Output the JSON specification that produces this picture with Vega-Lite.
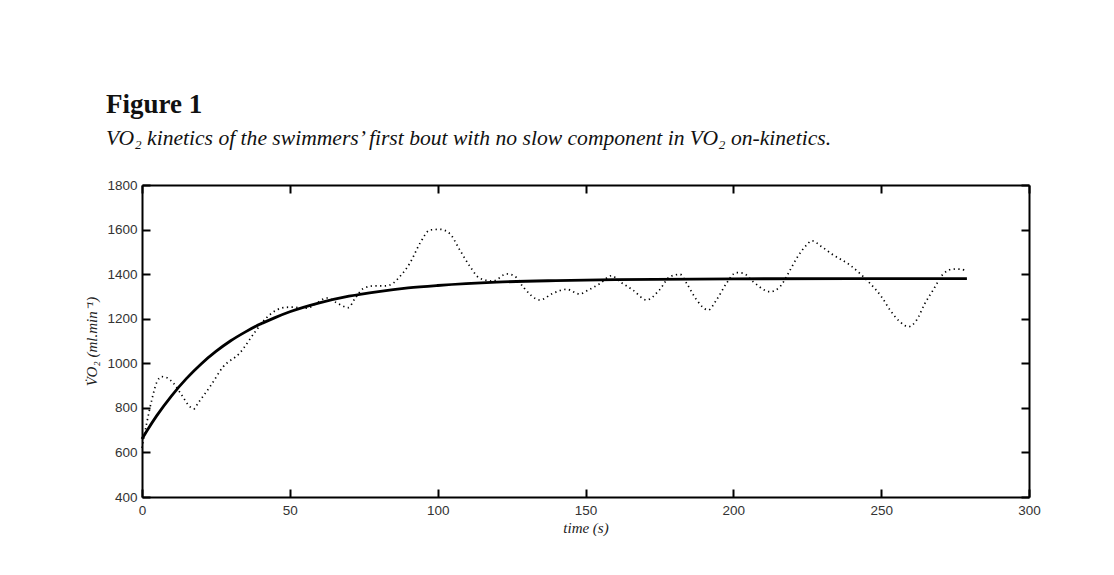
{
  "$schema": "https://vega.github.io/schema/vega-lite/v6.json",
  "autosize": {"type": "none"},
  "padding": {"left": 142, "top": 185, "right": 85, "bottom": 78},
  "width": 887,
  "height": 312,
  "background": "white",
  "title": {
    "text": "Figure 1",
    "subtitle": "VO₂ kinetics of the swimmers’ first bout with no slow component in VO₂ on-kinetics.",
    "anchor": "start",
    "frame": "group",
    "dx": -36,
    "offset": 27,
    "font": "Liberation Serif",
    "fontSize": 27,
    "fontWeight": "bold",
    "color": "#111111",
    "subtitleFont": "Liberation Serif",
    "subtitleFontSize": 21.6,
    "subtitleFontStyle": "italic",
    "subtitleColor": "#111111",
    "subtitlePadding": 9
  },
  "datasets": {
    "fit": [
      {"t": 0, "v": 660}, {"t": 2, "v": 704}, {"t": 5, "v": 765}, {"t": 10, "v": 854},
      {"t": 15, "v": 931}, {"t": 20, "v": 997}, {"t": 25, "v": 1053}, {"t": 30, "v": 1101},
      {"t": 35, "v": 1141}, {"t": 40, "v": 1176}, {"t": 45, "v": 1205}, {"t": 50, "v": 1231},
      {"t": 60, "v": 1271}, {"t": 70, "v": 1301}, {"t": 80, "v": 1322}, {"t": 90, "v": 1338},
      {"t": 100, "v": 1349}, {"t": 120, "v": 1364}, {"t": 140, "v": 1371}, {"t": 160, "v": 1375},
      {"t": 200, "v": 1379}, {"t": 240, "v": 1380}, {"t": 279, "v": 1380}
    ],
    "obs": [
      {"t": 0, "v": 620}, {"t": 1.6, "v": 732}, {"t": 3.3, "v": 835}, {"t": 5, "v": 915},
      {"t": 6.7, "v": 940}, {"t": 8.5, "v": 935}, {"t": 10.6, "v": 911}, {"t": 13.4, "v": 858},
      {"t": 16.2, "v": 805}, {"t": 17.5, "v": 795}, {"t": 19, "v": 822}, {"t": 23, "v": 895},
      {"t": 27.5, "v": 985}, {"t": 33, "v": 1045}, {"t": 38.2, "v": 1140}, {"t": 42, "v": 1203},
      {"t": 45.5, "v": 1239}, {"t": 48, "v": 1250}, {"t": 50.6, "v": 1252}, {"t": 55.7, "v": 1247},
      {"t": 58.5, "v": 1265}, {"t": 62.5, "v": 1293}, {"t": 66, "v": 1270}, {"t": 69.8, "v": 1250},
      {"t": 72, "v": 1290}, {"t": 74.8, "v": 1335}, {"t": 78.2, "v": 1347}, {"t": 82.2, "v": 1347},
      {"t": 85, "v": 1360}, {"t": 87.2, "v": 1389}, {"t": 90.6, "v": 1449}, {"t": 94, "v": 1538},
      {"t": 97.4, "v": 1598}, {"t": 100.8, "v": 1601}, {"t": 104, "v": 1583}, {"t": 107.5, "v": 1508},
      {"t": 111, "v": 1433}, {"t": 114.3, "v": 1381}, {"t": 118.8, "v": 1369}, {"t": 123.3, "v": 1401},
      {"t": 126, "v": 1392}, {"t": 129, "v": 1341}, {"t": 134.6, "v": 1284}, {"t": 139, "v": 1314},
      {"t": 143.6, "v": 1332}, {"t": 148, "v": 1311}, {"t": 151, "v": 1329}, {"t": 155, "v": 1359},
      {"t": 158.8, "v": 1393}, {"t": 161.7, "v": 1366}, {"t": 166, "v": 1329}, {"t": 170.7, "v": 1284},
      {"t": 175, "v": 1329}, {"t": 178.6, "v": 1389}, {"t": 182, "v": 1399}, {"t": 184.2, "v": 1359},
      {"t": 187.6, "v": 1284}, {"t": 191.5, "v": 1239}, {"t": 194.3, "v": 1284}, {"t": 197.7, "v": 1359},
      {"t": 201, "v": 1407}, {"t": 203.4, "v": 1404}, {"t": 206.7, "v": 1366}, {"t": 212.4, "v": 1321},
      {"t": 215.8, "v": 1344}, {"t": 218.6, "v": 1404}, {"t": 221.4, "v": 1471}, {"t": 224.8, "v": 1531},
      {"t": 226.5, "v": 1550}, {"t": 229.9, "v": 1523}, {"t": 233.8, "v": 1486}, {"t": 239.4, "v": 1441},
      {"t": 243.4, "v": 1396}, {"t": 246.2, "v": 1359}, {"t": 250.1, "v": 1299}, {"t": 253, "v": 1239},
      {"t": 256.3, "v": 1187}, {"t": 259.2, "v": 1164}, {"t": 262, "v": 1194}, {"t": 264.8, "v": 1269},
      {"t": 267.6, "v": 1329}, {"t": 271, "v": 1401}, {"t": 274.4, "v": 1423}, {"t": 277.2, "v": 1422},
      {"t": 278.9, "v": 1407}
    ]
  },
  "layer": [
    {
      "data": {"name": "obs"},
      "mark": {"type": "line", "color": "black", "strokeWidth": 1.7, "strokeDash": [1.3, 3.4], "interpolate": "monotone"},
      "encoding": {
        "x": {"field": "t", "type": "quantitative", "scale": {"domain": [0, 300], "nice": false, "zero": false},
          "axis": {"orient": "top", "labels": false, "title": null, "values": [0, 50, 100, 150, 200, 250, 300]}},
        "y": {"field": "v", "type": "quantitative", "scale": {"domain": [400, 1800], "nice": false, "zero": false},
          "axis": {"orient": "right", "labels": false, "title": null, "values": [400, 600, 800, 1000, 1200, 1400, 1600, 1800]}}
      }
    },
    {
      "data": {"name": "fit"},
      "mark": {"type": "line", "color": "black", "strokeWidth": 2.8, "interpolate": "monotone"},
      "encoding": {
        "x": {"field": "t", "type": "quantitative",
          "axis": {"orient": "bottom", "title": "time (s)", "format": "d", "labelFlush": false, "labelPadding": 14, "titlePadding": 4, "values": [0, 50, 100, 150, 200, 250, 300]}},
        "y": {"field": "v", "type": "quantitative",
          "axis": {"orient": "left", "title": "V̇O₂ (ml.min⁻¹)", "format": "d", "labelFlush": false, "labelPadding": 13, "titlePadding": 7, "values": [400, 600, 800, 1000, 1200, 1400, 1600, 1800]}}
      }
    }
  ],
  "resolve": {"axis": {"x": "independent", "y": "independent"}},
  "config": {
    "view": {"stroke": null},
    "axis": {
      "grid": false,
      "domainColor": "black",
      "domainWidth": 2,
      "tickColor": "black",
      "tickWidth": 2,
      "tickSize": -8,
      "labelFont": "Liberation Sans",
      "labelFontSize": 13.5,
      "labelColor": "#333333",
      "titleFont": "Liberation Serif",
      "titleFontStyle": "italic",
      "titleFontWeight": "normal",
      "titleFontSize": 15,
      "titleColor": "#222222"
    }
  }
}
